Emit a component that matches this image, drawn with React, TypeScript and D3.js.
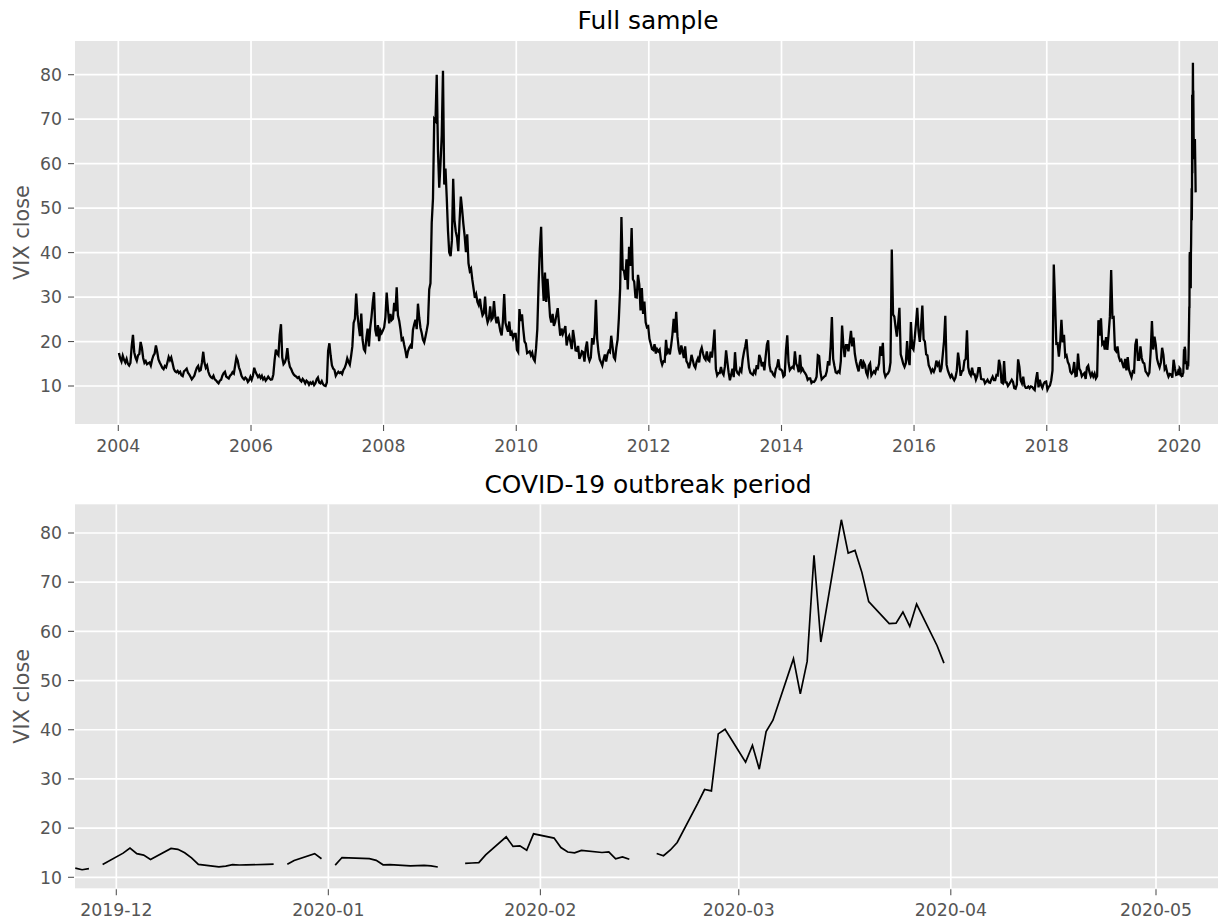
import { useEffect, useRef } from 'react'
import * as d3 from 'd3'

// weekly VIX closes (one array per year)
const vix2004 = [17.4, 16.2, 15.5, 16.8, 15.9, 15.3, 16.1, 15.0, 14.6, 15.2, 18.9, 21.5, 17.6, 16.4, 15.7, 16.9, 17.2, 19.9, 18.6, 16.3, 15.2, 15.6, 14.9, 15.1, 15.3, 14.6, 15.9, 16.8, 17.3, 19.1, 17.7, 16.0, 15.3, 14.7, 14.1, 13.8, 14.5, 14.2, 15.3, 16.5, 15.8, 16.4, 15.2, 13.9, 13.3, 13.1, 13.4, 12.9, 13.2, 12.4, 12.2, 13.3]
const vix2005 = [13.6, 13.9, 13.0, 12.6, 12.1, 11.5, 11.9, 12.3, 13.3, 14.1, 14.5, 13.4, 13.6, 15.3, 17.7, 15.2, 14.1, 14.6, 13.2, 12.4, 12.0, 11.8, 12.3, 11.5, 11.3, 10.9, 10.6, 11.2, 11.4, 12.3, 12.9, 13.2, 12.1, 11.9, 11.7, 12.3, 12.6, 13.1, 12.8, 14.6, 16.4, 15.7, 14.2, 13.4, 12.3, 11.8, 11.5, 11.9, 11.6, 10.9, 11.3, 12.1]
const vix2006 = [11.4, 12.3, 14.1, 13.2, 12.6, 12.0, 12.4, 11.8, 12.3, 11.5, 11.9, 11.2, 11.6, 12.1, 11.7, 11.4, 11.5, 12.6, 15.8, 18.2, 17.3, 16.9, 21.5, 23.9, 16.4, 14.9, 15.3, 16.2, 18.5, 15.7, 14.3, 13.8, 13.1, 12.6, 12.3, 12.1, 11.8, 12.0, 11.3, 11.0, 11.6, 11.2, 10.6, 11.2, 10.9, 10.3, 10.8, 10.5, 10.9, 10.2, 10.6, 11.5]
const vix2007 = [11.9, 10.8, 10.6, 11.1, 10.4, 10.1, 10.0, 10.8, 17.9, 19.6, 16.8, 14.6, 13.9, 13.6, 12.3, 12.8, 13.2, 12.9, 13.1, 12.7, 13.6, 14.1, 14.9, 16.2, 15.4, 14.8, 16.7, 18.9, 24.2, 25.1, 30.8, 26.1, 23.4, 21.2, 26.3, 20.4, 18.3, 17.8, 20.8, 22.9, 18.9, 23.1, 25.5, 28.7, 31.1, 22.6, 21.2, 23.7, 20.1, 22.5, 21.9, 22.5]
const vix2008 = [23.2, 25.5, 31.0, 27.3, 24.1, 26.2, 24.8, 25.1, 28.7, 26.8, 32.2, 25.9, 24.7, 22.8, 20.4, 20.7, 19.2, 17.9, 16.3, 17.8, 18.6, 19.1, 18.4, 22.6, 23.9, 24.9, 22.8, 28.5, 25.4, 23.1, 21.9, 20.4, 19.8, 21.1, 22.5, 24.1, 31.7, 33.1, 46.7, 52.1, 70.0, 69.6, 80.0, 62.9, 54.6, 59.9, 66.3, 80.9, 55.3, 58.9, 52.4, 44.9, 40.0]
const vix2009 = [39.2, 42.8, 56.6, 47.3, 44.8, 43.4, 40.3, 47.1, 52.6, 49.7, 46.4, 43.7, 40.1, 44.1, 37.6, 35.9, 36.4, 33.9, 31.9, 29.8, 30.6, 28.9, 28.2, 29.6, 27.3, 25.9, 26.4, 30.1, 25.8, 24.3, 25.1, 27.9, 24.9, 25.3, 29.1, 25.6, 24.1, 25.6, 23.9, 22.3, 21.4, 24.6, 30.7, 24.2, 23.1, 22.2, 24.5, 21.3, 22.0, 20.8, 21.7, 21.7]
const vix2010 = [18.1, 17.6, 27.3, 24.6, 26.1, 22.7, 20.0, 19.5, 17.4, 17.6, 17.8, 16.9, 17.5, 16.1, 15.6, 18.4, 22.8, 32.8, 40.9, 45.8, 34.6, 29.1, 35.5, 28.9, 34.1, 30.1, 25.6, 24.3, 26.2, 23.5, 24.4, 26.0, 27.5, 24.2, 21.3, 22.9, 21.7, 22.5, 23.5, 19.1, 20.7, 21.3, 19.9, 18.3, 22.6, 20.6, 18.0, 17.9, 19.0, 16.1, 16.8, 17.8]
const vix2011 = [17.6, 15.5, 18.5, 20.0, 16.7, 15.7, 16.4, 20.8, 19.3, 21.7, 29.4, 20.6, 17.7, 16.0, 15.3, 14.6, 16.0, 17.1, 15.5, 17.1, 17.9, 17.6, 21.3, 18.9, 16.5, 16.0, 18.6, 20.4, 25.3, 32.0, 48.0, 36.2, 35.9, 33.9, 38.5, 31.7, 41.3, 37.0, 45.5, 34.0, 33.5, 30.0, 29.9, 35.0, 32.8, 27.0, 32.0, 26.2, 29.0, 24.3, 23.2, 23.4]
const vix2012 = [20.6, 19.5, 18.3, 18.1, 19.4, 17.3, 18.3, 17.8, 18.2, 15.8, 14.8, 15.6, 15.5, 20.4, 17.5, 18.0, 17.1, 19.1, 21.5, 25.1, 22.0, 26.7, 21.1, 18.3, 17.1, 19.1, 17.8, 16.3, 18.9, 15.6, 15.1, 14.0, 15.2, 17.0, 15.8, 14.6, 14.1, 15.5, 16.2, 15.3, 17.8, 18.6, 17.3, 16.3, 15.9, 17.8, 15.9, 15.6, 17.7, 16.4, 19.1, 22.7]
const vix2013 = [13.8, 12.4, 12.9, 12.9, 14.3, 13.0, 12.5, 14.3, 18.0, 15.4, 13.0, 11.3, 12.6, 13.9, 12.0, 17.6, 13.6, 12.9, 12.6, 13.8, 13.3, 15.9, 17.6, 18.9, 20.5, 16.9, 14.1, 13.0, 12.7, 12.5, 13.4, 12.9, 14.7, 13.8, 17.0, 16.2, 14.4, 15.4, 13.5, 16.6, 19.3, 20.3, 14.7, 13.3, 13.2, 12.5, 12.2, 13.8, 14.4, 16.0, 13.8, 13.7]
const vix2014 = [13.4, 12.1, 12.4, 18.1, 21.4, 15.3, 13.6, 14.0, 14.3, 14.0, 17.8, 15.0, 14.4, 13.1, 17.0, 13.4, 13.9, 13.3, 12.9, 12.4, 11.4, 11.7, 11.7, 10.7, 11.0, 10.9, 11.3, 12.1, 16.9, 16.7, 13.2, 11.5, 11.8, 12.1, 12.3, 13.3, 15.6, 14.6, 18.8, 25.5, 16.1, 14.5, 13.1, 12.9, 13.3, 13.0, 15.6, 23.6, 19.2, 16.5, 19.2, 19.2]
const vix2015 = [17.8, 19.9, 22.4, 18.9, 20.9, 17.3, 15.5, 14.3, 13.3, 15.1, 16.0, 13.9, 15.3, 14.7, 13.0, 12.3, 14.6, 15.1, 12.4, 12.9, 13.3, 12.9, 14.0, 13.8, 15.0, 18.9, 16.8, 19.7, 13.2, 12.1, 12.6, 12.8, 13.4, 15.3, 40.7, 26.1, 25.6, 23.2, 21.1, 24.1, 27.6, 17.1, 16.1, 15.0, 14.3, 15.1, 20.1, 16.0, 14.7, 24.4, 18.7, 18.2]
const vix2016 = [20.7, 24.0, 27.6, 22.4, 19.9, 23.4, 28.1, 20.5, 20.0, 17.1, 16.9, 14.7, 14.0, 13.1, 13.7, 13.2, 14.0, 15.7, 14.7, 15.2, 13.1, 14.0, 17.0, 20.1, 25.8, 14.8, 13.5, 12.7, 12.0, 12.5, 11.8, 11.3, 11.9, 13.4, 17.5, 15.4, 12.3, 13.3, 13.5, 15.7, 16.1, 22.5, 14.2, 12.9, 12.4, 14.1, 12.6, 12.6, 11.4, 12.2, 14.0, 14.0]
const vix2017 = [11.6, 11.5, 11.5, 10.6, 11.0, 11.4, 10.8, 10.7, 11.5, 12.1, 11.3, 11.3, 12.5, 12.4, 15.9, 14.6, 10.8, 10.6, 15.6, 10.8, 10.8, 10.0, 10.4, 10.9, 11.4, 10.9, 9.5, 9.4, 10.3, 16.0, 14.3, 11.3, 10.6, 12.1, 10.1, 9.6, 9.6, 9.9, 9.5, 9.9, 9.8, 9.4, 9.1, 11.4, 13.1, 9.7, 11.4, 10.2, 9.6, 10.5, 10.9, 11.0]
const vix2018 = [9.2, 9.8, 10.1, 11.3, 13.5, 37.3, 29.1, 19.5, 19.6, 16.6, 19.6, 24.9, 19.8, 21.5, 16.6, 16.9, 15.4, 14.8, 13.2, 12.8, 13.2, 15.4, 12.2, 12.3, 17.3, 13.9, 13.4, 12.2, 12.6, 12.9, 11.6, 14.2, 14.6, 13.1, 12.2, 12.9, 12.1, 12.8, 11.7, 12.2, 24.8, 21.3, 25.2, 19.4, 19.8, 18.2, 21.0, 18.1, 21.6, 25.6, 36.1, 25.4]
const vix2019 = [25.5, 18.2, 17.8, 18.9, 16.6, 15.7, 15.9, 14.9, 14.0, 16.1, 13.5, 16.5, 13.7, 12.8, 12.0, 13.3, 13.1, 19.3, 20.6, 15.9, 15.9, 18.9, 16.3, 15.3, 15.1, 13.3, 12.9, 12.4, 13.0, 17.6, 24.6, 18.2, 21.1, 19.3, 16.1, 15.0, 14.2, 15.3, 18.6, 17.0, 13.8, 14.3, 13.0, 12.1, 12.7, 12.6, 11.9, 15.9, 14.0, 12.5, 12.6, 13.8]

const years = [2004, 2005, 2006, 2007, 2008, 2009, 2010, 2011, 2012, 2013, 2014, 2015, 2016, 2017, 2018, 2019]
const weekly = [vix2004, vix2005, vix2006, vix2007, vix2008, vix2009, vix2010, vix2011, vix2012, vix2013, vix2014, vix2015, vix2016, vix2017, vix2018, vix2019]

// daily closes for the outbreak window, null = market holiday (breaks the line)
const covidDates = [
  '2019-11-25', '2019-11-26', '2019-11-27', '2019-11-28', '2019-11-29',
  '2019-12-02', '2019-12-03', '2019-12-04', '2019-12-05', '2019-12-06',
  '2019-12-09', '2019-12-10', '2019-12-11', '2019-12-12', '2019-12-13',
  '2019-12-16', '2019-12-17', '2019-12-18', '2019-12-19', '2019-12-20',
  '2019-12-23', '2019-12-24', '2019-12-25', '2019-12-26', '2019-12-27',
  '2019-12-30', '2019-12-31', '2020-01-01', '2020-01-02', '2020-01-03',
  '2020-01-06', '2020-01-07', '2020-01-08', '2020-01-09', '2020-01-10',
  '2020-01-13', '2020-01-14', '2020-01-15', '2020-01-16', '2020-01-17',
  '2020-01-20', '2020-01-21', '2020-01-22', '2020-01-23', '2020-01-24',
  '2020-01-27', '2020-01-28', '2020-01-29', '2020-01-30', '2020-01-31',
  '2020-02-03', '2020-02-04', '2020-02-05', '2020-02-06', '2020-02-07',
  '2020-02-10', '2020-02-11', '2020-02-12', '2020-02-13', '2020-02-14',
  '2020-02-17', '2020-02-18', '2020-02-19', '2020-02-20', '2020-02-21',
  '2020-02-24', '2020-02-25', '2020-02-26', '2020-02-27', '2020-02-28',
  '2020-03-02', '2020-03-03', '2020-03-04', '2020-03-05', '2020-03-06',
  '2020-03-09', '2020-03-10', '2020-03-11', '2020-03-12', '2020-03-13',
  '2020-03-16', '2020-03-17', '2020-03-18', '2020-03-19', '2020-03-20',
  '2020-03-23', '2020-03-24', '2020-03-25', '2020-03-26', '2020-03-27',
  '2020-03-30', '2020-03-31',
]
const covidClose = [
  11.87, 11.54, 11.75, null, 12.62,
  14.91, 15.96, 14.80, 14.52, 13.62,
  15.86, 15.68, 14.99, 13.94, 12.63,
  12.14, 12.29, 12.58, 12.50, 12.51,
  12.61, 12.67, null, 12.65, 13.43,
  14.82, 13.78, null, 12.47, 14.02,
  13.85, 13.79, 13.45, 12.54, 12.56,
  12.32, 12.39, 12.42, 12.32, 12.10,
  null, 12.85, 12.91, 12.98, 14.56,
  18.23, 16.28, 16.39, 15.49, 18.84,
  17.97, 16.05, 15.15, 14.96, 15.47,
  15.04, 15.18, 13.74, 14.15, 13.68,
  null, 14.83, 14.38, 15.56, 17.08,
  25.03, 27.85, 27.56, 39.16, 40.11,
  33.42, 36.82, 31.99, 39.62, 41.94,
  54.46, 47.30, 53.90, 75.47, 57.83,
  82.69, 75.91, 76.45, 72.00, 66.04,
  61.59, 61.67, 63.95, 61.00, 65.54,
  57.08, 53.54,
]

const yTicks = [10, 20, 30, 40, 50, 60, 70, 80]

const FONT = 'DejaVu Sans, Verdana, sans-serif'
const BG = '#e5e5e5'
const TXT = '#555555'

export default function App() {
  const svgRef = useRef(null)

  useEffect(() => {
    document.body.style.margin = '0'
    const svg = d3.select(svgRef.current)
    svg.selectAll('*').remove()

    const parse = d3.timeParse('%Y-%m-%d')
    const daily = covidDates.map((s, i) => ({ date: parse(s), v: covidClose[i] }))

    const full = years.flatMap((yr, k) => {
      const vals = weekly[k]
      const t0 = new Date(yr, 0, 1).getTime()
      const step = (365.25 / vals.length) * 864e5
      return vals.map((v, i) => ({ date: new Date(t0 + (i + 0.5) * step), v }))
    }).concat(daily.filter(d => d.v != null && d.date >= new Date(2020, 0, 1)))

    const panels = [
      {
        id: 'full', title: 'Full sample', titleY: 29.3,
        box: { l: 75, r: 1221, t: 41, b: 424 },
        x: d3.scaleTime().domain([new Date(2004, 0, 1), new Date(2020, 0, 1)]).range([118.3, 1179.3]),
        y: d3.scaleLinear().domain([10, 80]).range([386, 74.7]),
        xTicks: d3.timeYear.every(2).range(new Date(2004, 0, 1), new Date(2020, 0, 2)),
        fmt: d3.timeFormat('%Y'),
        data: full, lw: 2.3,
      },
      {
        id: 'covid', title: 'COVID-19 outbreak period', titleY: 493.3,
        box: { l: 75, r: 1221, t: 504.3, b: 888.3 },
        x: d3.scaleTime().domain([new Date(2019, 11, 1), new Date(2020, 4, 1)]).range([116.3, 1156]),
        y: d3.scaleLinear().domain([10, 80]).range([877.3, 533]),
        xTicks: d3.timeMonth.range(new Date(2019, 11, 1), new Date(2020, 4, 2)),
        fmt: d3.timeFormat('%Y-%m'),
        data: daily, lw: 1.7,
      },
    ]

    panels.forEach(p => {
      const { box, x, y } = p
      const g = svg.append('g')

      g.append('rect')
        .attr('x', box.l).attr('y', box.t)
        .attr('width', box.r - box.l).attr('height', box.b - box.t)
        .attr('fill', BG)

      g.append('g').selectAll('line').data(yTicks).join('line')
        .attr('x1', box.l).attr('x2', box.r)
        .attr('y1', d => y(d)).attr('y2', d => y(d))
        .attr('stroke', '#fff').attr('stroke-width', 1.7)

      g.append('g').selectAll('line').data(p.xTicks).join('line')
        .attr('x1', d => x(d)).attr('x2', d => x(d))
        .attr('y1', box.t).attr('y2', box.b)
        .attr('stroke', '#fff').attr('stroke-width', 1.7)

      // tick marks
      g.append('g').selectAll('line').data(yTicks).join('line')
        .attr('x1', box.l - 7).attr('x2', box.l - 1)
        .attr('y1', d => y(d)).attr('y2', d => y(d))
        .attr('stroke', TXT).attr('stroke-width', 1.1)
      g.append('g').selectAll('line').data(p.xTicks).join('line')
        .attr('x1', d => x(d)).attr('x2', d => x(d))
        .attr('y1', box.b + 1).attr('y2', box.b + 7)
        .attr('stroke', TXT).attr('stroke-width', 1.1)

      g.append('g').selectAll('text').data(yTicks).join('text')
        .attr('x', box.l - 13).attr('y', d => y(d))
        .attr('dy', '0.36em')
        .attr('text-anchor', 'end')
        .attr('font-family', FONT).attr('font-size', 17.3).attr('fill', TXT)
        .text(d => d)

      g.append('g').selectAll('text').data(p.xTicks).join('text')
        .attr('x', d => x(d)).attr('y', box.b + 27.5)
        .attr('text-anchor', 'middle')
        .attr('font-family', FONT).attr('font-size', 17.3).attr('fill', TXT)
        .text(d => p.fmt(d))

      g.append('text')
        .attr('transform', `translate(28.5,${(box.t + box.b) / 2}) rotate(-90)`)
        .attr('text-anchor', 'middle')
        .attr('font-family', FONT).attr('font-size', 20.8).attr('fill', TXT)
        .text('VIX close')

      g.append('text')
        .attr('x', (box.l + box.r) / 2).attr('y', p.titleY)
        .attr('text-anchor', 'middle')
        .attr('font-family', FONT).attr('font-size', 24.9).attr('fill', '#000')
        .text(p.title)

      g.append('clipPath').attr('id', `clip-${p.id}`)
        .append('rect')
        .attr('x', box.l).attr('y', box.t)
        .attr('width', box.r - box.l).attr('height', box.b - box.t)

      const line = d3.line()
        .defined(d => d.v != null)
        .x(d => x(d.date))
        .y(d => y(d.v))

      g.append('path')
        .datum(p.data)
        .attr('clip-path', `url(#clip-${p.id})`)
        .attr('d', line)
        .attr('fill', 'none')
        .attr('stroke', '#000')
        .attr('stroke-width', p.lw)
        .attr('stroke-linejoin', 'miter')
    })
  }, [])

  return (
    <svg ref={svgRef} width={1218} height={921}
      style={{ position: 'absolute', left: 0, top: 0, background: '#fff', display: 'block' }} />
  )
}
